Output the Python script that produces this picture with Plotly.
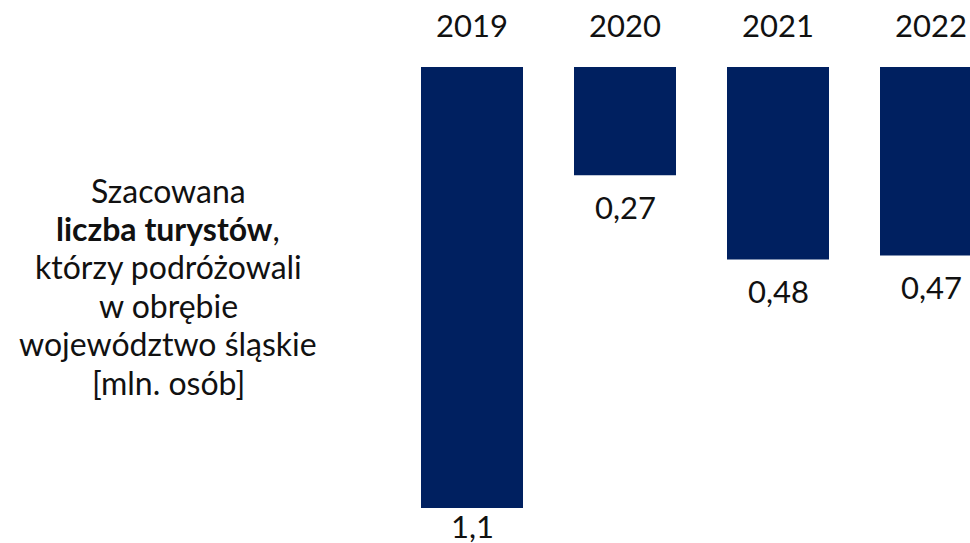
import plotly.graph_objects as go

# -------------------------------------------------
# Data
# -------------------------------------------------
years = ["2019", "2020", "2021", "2022"]
tourists_mln = [1.1, 0.27, 0.48, 0.47]
value_labels = ["1,1", "0,27", "0,48", "0,47"]
desc_lines = [
    "Szacowana",
    "<b>liczba turystów</b>,",
    "którzy podróżowali",
    "w obrębie",
    "województwo śląskie",
    "[mln. osób]",
]

# style
BAR_COLOR = "#002060"
FONT = "Lato"
PX_PER_UNIT = 401      # vertical scale (px per mln)
TOP_PX = 67            # bar baseline from top edge
PITCH = 153            # px between bar centres
FIRST_CENTER = 472     # px of first bar centre
W, H = 970, 543

x_pos = list(range(len(years)))

fig = go.Figure()

fig.add_trace(
    go.Bar(
        x=x_pos,
        y=tourists_mln,
        width=102 / PITCH,
        marker=dict(color=BAR_COLOR, line_width=0),
        hoverinfo="skip",
    )
)

# year labels above the baseline
for xi, yr in zip(x_pos, years):
    fig.add_annotation(
        x=xi, y=0, text=yr, showarrow=False,
        yanchor="middle", yshift=42,
        font=dict(family=FONT, size=31, color="#111111"),
    )

# value labels below each bar (label near the bottom edge sits closer)
for xi, v, lab in zip(x_pos, tourists_mln, value_labels):
    gap = min(32, H - TOP_PX - v * PX_PER_UNIT - 17)
    fig.add_annotation(
        x=xi, y=v, text=lab, showarrow=False,
        yanchor="middle", yshift=-gap,
        font=dict(family=FONT, size=31, color="#111111"),
    )

# left description, one annotation per line for tighter leading
LINE_H = 38.4
first_line_y = 190
for i, line in enumerate(desc_lines):
    fig.add_annotation(
        xref="paper", yref="paper",
        x=168 / W, y=1 - (first_line_y + i * LINE_H) / H,
        text=line,
        showarrow=False, align="center",
        xanchor="center", yanchor="middle",
        font=dict(family=FONT, size=32, color="#111111"),
    )

x0 = -FIRST_CENTER / PITCH
x1 = x0 + W / PITCH
y_top = -TOP_PX / PX_PER_UNIT
y_bottom = (H - TOP_PX) / PX_PER_UNIT

fig.update_xaxes(range=[x0, x1], visible=False, fixedrange=True)
fig.update_yaxes(range=[y_bottom, y_top], visible=False, fixedrange=True)

fig.update_layout(
    width=W,
    height=H,
    margin=dict(l=0, r=0, t=0, b=0),
    plot_bgcolor="white",
    paper_bgcolor="white",
    showlegend=False,
    font=dict(family=FONT),
)

fig.write_html(
    "out.html",
    config={"displayModeBar": False},
    post_script="document.body.style.margin='0';document.body.style.overflow='hidden';",
)
